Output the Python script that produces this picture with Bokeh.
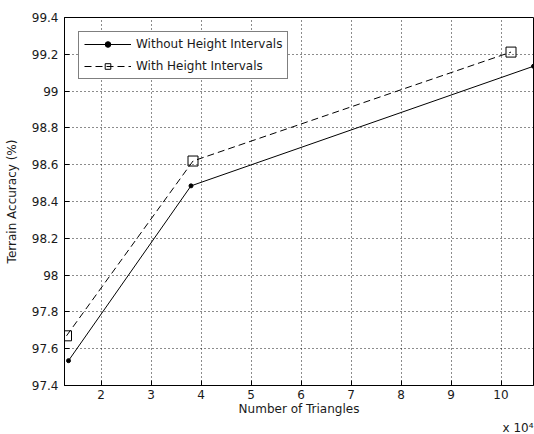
from bokeh.plotting import figure
from bokeh.models import FixedTicker, Range1d, Legend, LegendItem, Title
from bokeh.embed import file_html
from bokeh.resources import INLINE

# Data (x in units of 10^4 triangles)
x_without = [1.35, 3.80, 10.65]
y_without = [97.535, 98.485, 99.135]
x_with = [1.31, 3.84, 10.20]
y_with = [97.67, 98.62, 99.212]

x_ticks = [2, 3, 4, 5, 6, 7, 8, 9, 10]
y_ticks = [97.4, 97.6, 97.8, 98.0, 98.2, 98.4, 98.6, 98.8, 99.0, 99.2, 99.4]
y_tick_labels = ["97.4", "97.6", "97.8", "98", "98.2", "98.4", "98.6", "98.8", "99", "99.2", "99.4"]

FONT = "DejaVu Sans"
TXT = "#1a1a1a"

p = figure(width=534, height=434, output_backend="svg", toolbar_location=None,
           x_range=Range1d(1.27, 10.65), y_range=Range1d(97.4, 99.4),
           min_border_left=64, min_border_right=1, min_border_top=17, min_border_bottom=0)
p.background_fill_color = "white"
p.border_fill_color = "white"
p.outline_line_color = "black"
p.outline_line_width = 1

p.xaxis.ticker = FixedTicker(ticks=x_ticks)
p.yaxis.ticker = FixedTicker(ticks=y_ticks)
p.yaxis.major_label_overrides = {t: l for t, l in zip(y_ticks, y_tick_labels)}
for ax in (p.xaxis[0], p.yaxis[0]):
    ax.axis_line_color = "black"
    ax.major_tick_in = 5
    ax.major_tick_out = 0
    ax.minor_tick_line_color = None
    ax.major_label_text_font = FONT
    ax.major_label_text_font_size = "12px"
    ax.major_label_text_color = TXT
    ax.axis_label_text_font = FONT
    ax.axis_label_text_font_size = "12px"
    ax.axis_label_text_font_style = "normal"
    ax.axis_label_text_color = TXT
p.xaxis.axis_label = "Number of Triangles"
p.yaxis.axis_label = "Terrain Accuracy (%)"
p.xaxis.major_label_standoff = 4
p.xaxis.axis_label_standoff = 0
p.yaxis.major_label_standoff = 6
p.yaxis.axis_label_standoff = 10

for g in (p.xgrid[0], p.ygrid[0]):
    g.grid_line_color = "black"
    g.grid_line_dash = "1 3"
    g.grid_line_width = 1
    g.grid_line_alpha = 0.9

l1 = p.line(x_without, y_without, line_color="black", line_width=1)
m1 = p.scatter(x_without, y_without, marker="circle", size=4, fill_color="black", line_color="black")
l2 = p.line(x_with, y_with, line_color="black", line_width=1, line_dash="7 4")
m2 = p.scatter(x_with, y_with, marker="square", size=10, fill_color=None, line_color="black")

legend = Legend(items=[LegendItem(label="Without Height Intervals", renderers=[l1, m1]),
                       LegendItem(label="With Height Intervals", renderers=[l2, m2])],
                location="top_left", border_line_color="black", border_line_width=1,
                background_fill_color="white", background_fill_alpha=1,
                label_text_font=FONT, label_text_font_size="12px", label_text_color=TXT,
                glyph_width=47, glyph_height=14, label_standoff=5, spacing=8,
                padding=5, margin=14, label_height=14)
p.add_layout(legend)

# exponent of the x axis, shown below at the right
p.add_layout(Title(text="x 10\u2074", align="right", text_font=FONT, text_font_size="12px",
                   text_font_style="normal", text_color=TXT, standoff=0, offset=0), "below")

open("out.html", "w").write(file_html(p, INLINE))
